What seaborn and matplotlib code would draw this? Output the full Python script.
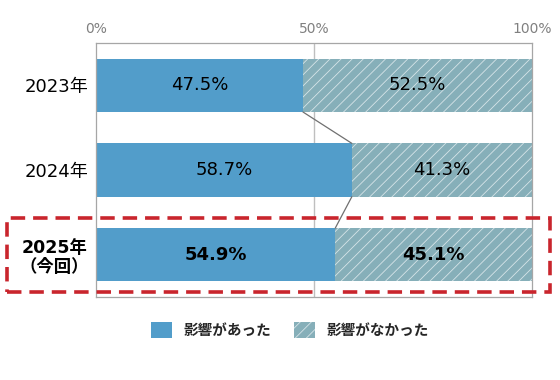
import matplotlib
matplotlib.use("Agg")
import matplotlib.pyplot as plt
import matplotlib.patches as mpatches
import seaborn as sns
import pandas as pd

years = ["2023年", "2024年", "2025年\n（今回）"]
affected = [47.5, 58.7, 54.9]
not_affected = [52.5, 41.3, 45.1]
legend_labels = ["影響があった", "影響がなかった"]
xticks = [0, 50, 100]
xtick_labels = ["0%", "50%", "100%"]

BLUE = "#529DCA"
TEAL = "#86AFB9"
FAM = ["DejaVu Sans", "Noto Sans CJK JP"]

sns.set_theme(style="white")
plt.rcParams["font.family"] = FAM
plt.rcParams["hatch.linewidth"] = 0.6

df = pd.DataFrame({"year": years, "affected": affected,
                   "total": [a + b for a, b in zip(affected, not_affected)]})

fig = plt.figure(figsize=(5.6, 3.8), dpi=100)
ax = fig.add_axes([0.171, 0.218, 0.779, 0.669])

sns.barplot(data=df, x="total", y="year", color=TEAL, width=0.63,
            saturation=1, ax=ax, orient="h")
for p in ax.patches:
    p.set_hatch("///")
    p.set_edgecolor("#D6E4E8")
    p.set_linewidth(0)
n_first = len(ax.patches)
sns.barplot(data=df, x="affected", y="year", color=BLUE, width=0.63,
            saturation=1, ax=ax, orient="h")
for p in ax.patches[n_first:]:
    p.set_linewidth(0)

ax.set_xlim(0, 100)
ax.set_ylim(2.5, -0.5)
ax.set_xlabel("")
ax.set_ylabel("")
ax.xaxis.tick_top()
ax.set_xticks(xticks)
ax.set_xticklabels(xtick_labels, color="#808080", fontsize=10)
ax.tick_params(axis="x", length=0, pad=5)
ax.tick_params(axis="y", length=0, pad=5)
ax.axvline(50, color="#BFBFBF", lw=1, zorder=0)
for s in ax.spines.values():
    s.set_color("#A6A6A6")
    s.set_linewidth(0.9)

ylabels = ax.get_yticklabels()
for i, t in enumerate(ylabels):
    t.set_fontsize(13)
    t.set_color("black")
    t.set_multialignment("center")
    if i == 2:
        t.set_fontweight("bold")
        t.set_fontsize(12.5)
        t.set_linespacing(1.1)

half = 0.63 / 2
for i in range(len(years)):
    w = "bold" if i == 2 else "normal"
    ax.text(affected[i] / 2, i, f"{affected[i]}%", ha="center", va="center",
            fontsize=13, fontweight=w, color="black")
    ax.text(affected[i] + not_affected[i] / 2, i, f"{not_affected[i]}%",
            ha="center", va="center", fontsize=13, fontweight=w, color="black")
for i in range(len(years) - 1):
    ax.plot([affected[i], affected[i + 1]], [i + half, i + 1 - half],
            color="#707070", lw=0.9, zorder=5)

# red dashed highlight
rect = mpatches.Rectangle((7 / 560, 1 - 292 / 380), 543 / 560, 74 / 380,
                          transform=fig.transFigure, fill=False,
                          edgecolor="#C9252D", lw=2.6, linestyle=(0, (4, 2.2)),
                          zorder=10)
fig.patches.append(rect)

handles = [mpatches.Patch(facecolor=BLUE, edgecolor="none"),
           mpatches.Patch(facecolor=TEAL, edgecolor="#D6E4E8", hatch="///", lw=0)]
leg = fig.legend(handles, legend_labels, loc="center", bbox_to_anchor=(290 / 560, 1 - 330 / 380),
                 ncol=2, frameon=False, handlelength=1.4, handleheight=1.4,
                 columnspacing=1.6, handletextpad=0.8,
                 prop={"size": 10.5, "weight": "bold", "family": ["Noto Sans CJK JP", "DejaVu Sans"]})

fig.savefig("out.png", dpi=100)
